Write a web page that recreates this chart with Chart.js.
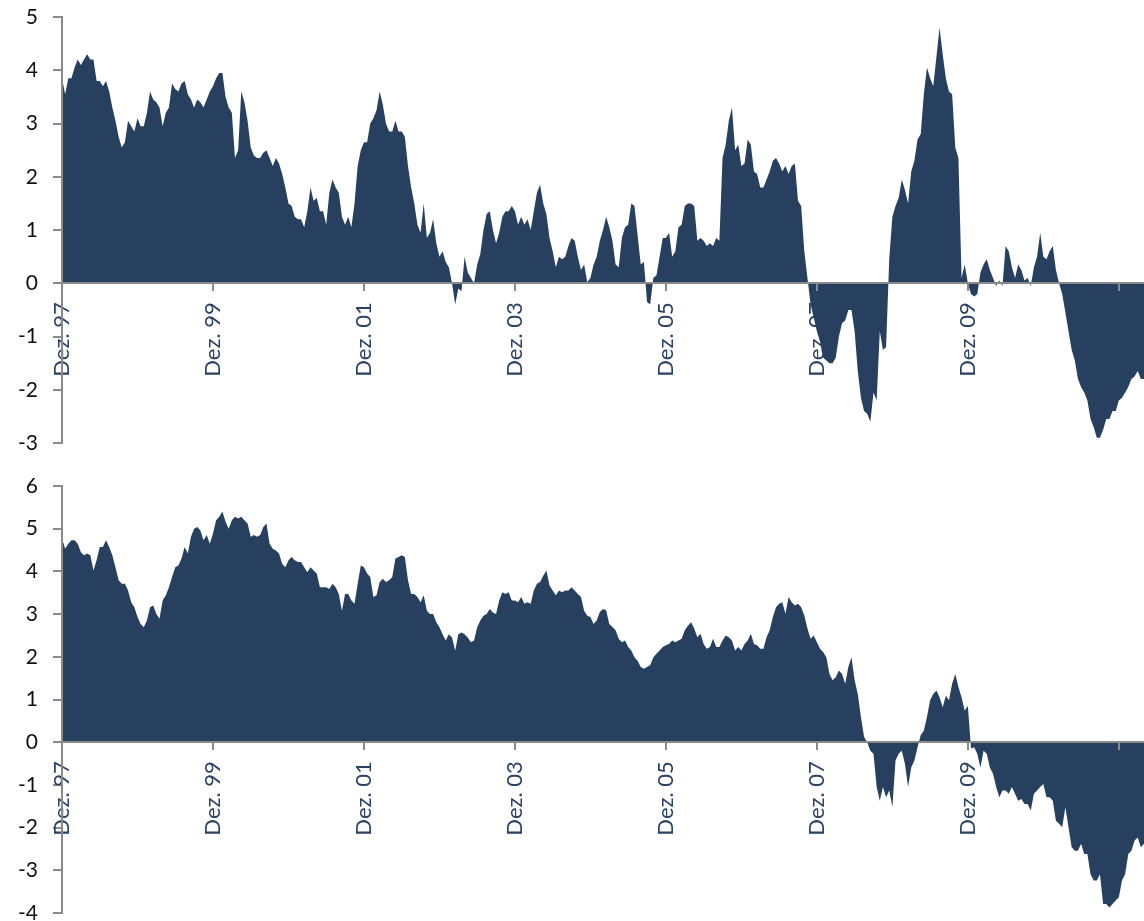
<!DOCTYPE html>
<html>
<head>
<meta charset="utf-8">
<script src="https://cdn.jsdelivr.net/npm/chart.js@4/dist/chart.umd.min.js"></script>
<style>
  html, body { margin: 0; padding: 0; background: #fff; overflow: hidden; }
  #wrap { position: relative; width: 1144px; height: 921px; overflow: hidden; }
  canvas { position: absolute; left: 0; }
  #top { top: 0; }
  #bottom { top: 460px; }
</style>
</head>
<body>
<div id="wrap">
  <canvas id="top" width="1144" height="460"></canvas>
  <canvas id="bottom" width="1144" height="480"></canvas>
</div>
<script>
// half-monthly readings, first value = Dez. 97
const topValues = [
  3.85, 3.55, 3.85, 3.85, 4.05, 4.2, 4.1, 4.2, 4.3, 4.2, 4.2, 3.8,
  3.8, 3.7, 3.8, 3.6, 3.3, 3.05, 2.75, 2.55, 2.65, 3.05, 2.95, 2.85,
  3.1, 2.95, 2.95, 3.2, 3.6, 3.45, 3.4, 3.3, 2.95, 3.2, 3.3, 3.75,
  3.65, 3.6, 3.75, 3.8, 3.55, 3.45, 3.3, 3.45, 3.4, 3.3, 3.45, 3.6,
  3.7, 3.85, 3.95, 3.95, 3.5, 3.3, 3.2, 2.35, 2.5, 3.6, 3.4, 3.05,
  2.55, 2.4, 2.35, 2.35, 2.45, 2.5, 2.35, 2.2, 2.35, 2.25, 2.05, 1.8,
  1.5, 1.45, 1.25, 1.2, 1.2, 1.05, 1.35, 1.8, 1.55, 1.6, 1.35, 1.35,
  1.1, 1.7, 1.95, 1.8, 1.7, 1.25, 1.1, 1.25, 1.05, 1.5, 2.2, 2.5,
  2.65, 2.65, 3.0, 3.1, 3.25, 3.6, 3.35, 3.0, 2.85, 2.85, 3.05, 2.85,
  2.85, 2.75, 2.2, 1.8, 1.5, 1.1, 0.95, 1.5, 0.85, 0.95, 1.2, 0.75,
  0.5, 0.6, 0.4, 0.3, 0.0, -0.4, -0.1, -0.15, 0.5, 0.2, 0.1, 0.0,
  0.35, 0.55, 1.0, 1.3, 1.35, 1.0, 0.75, 0.95, 1.25, 1.35, 1.35, 1.45,
  1.35, 1.1, 1.25, 1.1, 1.2, 1.0, 1.35, 1.7, 1.85, 1.5, 1.3, 0.85,
  0.6, 0.3, 0.5, 0.45, 0.5, 0.7, 0.85, 0.8, 0.5, 0.25, 0.35, 0.02,
  0.1, 0.35, 0.5, 0.8, 1.0, 1.25, 1.05, 0.8, 0.35, 0.3, 0.85, 1.05,
  1.1, 1.5, 1.45, 0.9, 0.35, 0.4, -0.35, -0.4, 0.1, 0.15, 0.5, 0.85,
  0.85, 0.95, 0.5, 0.6, 1.05, 1.1, 1.45, 1.5, 1.5, 1.45, 0.8, 0.85,
  0.8, 0.7, 0.75, 0.7, 0.85, 0.8, 2.35, 2.6, 3.05, 3.3, 2.5, 2.6,
  2.2, 2.25, 2.7, 2.6, 2.1, 2.05, 1.8, 1.8, 1.95, 2.1, 2.3, 2.35,
  2.25, 2.1, 2.2, 2.05, 2.2, 2.25, 1.55, 1.45, 0.6, 0.1, -0.4, -0.65,
  -0.9, -1.1, -1.4, -1.45, -1.5, -1.5, -1.4, -1.0, -0.75, -0.7, -0.5, -0.5,
  -0.9, -1.65, -2.15, -2.4, -2.45, -2.6, -2.05, -2.2, -0.9, -1.25, -1.2, 0.45,
  1.25, 1.45, 1.6, 1.95, 1.75, 1.5, 2.1, 2.3, 2.7, 2.8, 3.55, 4.05,
  3.85, 3.7, 4.25, 4.8, 4.3, 3.85, 3.6, 3.55, 2.55, 2.35, 0.1, 0.35,
  0.0, -0.2, -0.25, -0.2, 0.2, 0.35, 0.45, 0.25, 0.1, -0.05, 0.05, -0.05,
  0.7, 0.6, 0.3, 0.1, 0.35, 0.25, 0.05, 0.1, -0.05, 0.3, 0.5, 0.95,
  0.5, 0.45, 0.6, 0.7, 0.25, 0.0, -0.2, -0.55, -0.9, -1.25, -1.45, -1.8,
  -1.95, -2.05, -2.2, -2.55, -2.7, -2.9, -2.9, -2.75, -2.55, -2.55, -2.4, -2.4,
  -2.2, -2.15, -2.05, -1.95, -1.8, -1.75, -1.65, -1.8, -1.8
];

const bottomValues = [
  4.77, 4.53, 4.65, 4.73, 4.73, 4.65, 4.45, 4.38, 4.42, 4.38, 4.02, 4.26,
  4.57, 4.57, 4.73, 4.57, 4.38, 4.1, 3.79, 3.71, 3.71, 3.55, 3.28, 3.16,
  2.93, 2.77, 2.69, 2.85, 3.16, 3.2, 3.0, 2.89, 3.32, 3.44, 3.63, 3.87,
  4.1, 4.14, 4.3, 4.57, 4.42, 4.81, 5.0, 5.04, 4.96, 4.73, 4.85, 4.65,
  4.89, 5.2, 5.28, 5.4, 5.16, 5.0, 5.2, 5.28, 5.24, 5.28, 5.2, 5.12,
  4.81, 4.85, 4.81, 4.85, 5.04, 5.12, 4.65, 4.53, 4.49, 4.42, 4.18, 4.1,
  4.26, 4.34, 4.26, 4.22, 4.22, 4.1, 3.98, 4.1, 4.02, 3.95, 3.63, 3.63,
  3.63, 3.59, 3.71, 3.63, 3.47, 3.08, 3.47, 3.47, 3.32, 3.24, 3.71, 4.14,
  4.1, 3.95, 3.87, 3.4, 3.44, 3.75, 3.83, 3.75, 3.79, 3.87, 4.3, 4.34,
  4.38, 4.34, 3.79, 3.47, 3.47, 3.4, 3.28, 3.44, 3.08, 3.0, 3.0, 2.81,
  2.69, 2.53, 2.38, 2.53, 2.45, 2.14, 2.53, 2.57, 2.53, 2.45, 2.34, 2.38,
  2.69, 2.85, 2.96, 3.0, 3.12, 3.04, 3.0, 3.32, 3.51, 3.47, 3.51, 3.32,
  3.32, 3.28, 3.4, 3.24, 3.28, 3.24, 3.55, 3.71, 3.75, 3.9, 4.02, 3.67,
  3.55, 3.44, 3.55, 3.51, 3.55, 3.55, 3.63, 3.55, 3.47, 3.4, 3.08, 2.96,
  2.93, 2.77, 2.85, 3.05, 3.12, 3.09, 2.77, 2.7, 2.62, 2.42, 2.34, 2.38,
  2.23, 2.15, 1.99, 1.91, 1.76, 1.72, 1.76, 1.8, 1.99, 2.07, 2.15, 2.23,
  2.27, 2.3, 2.38, 2.34, 2.38, 2.42, 2.62, 2.73, 2.81, 2.66, 2.46, 2.54,
  2.3, 2.19, 2.23, 2.42, 2.23, 2.23, 2.38, 2.5, 2.46, 2.38, 2.15, 2.23,
  2.15, 2.3, 2.38, 2.54, 2.3, 2.27, 2.19, 2.19, 2.46, 2.62, 2.93, 3.16,
  3.24, 3.28, 3.01, 3.4, 3.28, 3.2, 3.24, 3.16, 2.97, 2.66, 2.42, 2.5,
  2.34, 2.19, 2.11, 1.99, 1.6, 1.45, 1.52, 1.68, 1.6, 1.37, 1.76, 1.99,
  1.45, 1.13, 0.59, 0.12, 0.0, -0.2, -0.27, -1.05, -1.37, -1.05, -1.29, -1.13,
  -1.52, -0.43, -0.27, -0.2, -0.51, -1.05, -0.59, -0.43, -0.12, 0.16, 0.27, 0.59,
  0.98, 1.13, 1.21, 1.05, 0.82, 1.09, 0.98, 1.37, 1.6, 1.29, 1.05, 0.74,
  0.85, -0.15, -0.12, -0.27, -0.59, -0.2, -0.27, -0.59, -0.74, -1.05, -1.29, -1.13,
  -1.13, -1.21, -1.05, -1.21, -1.37, -1.33, -1.45, -1.45, -1.6, -1.21, -1.13, -1.05,
  -0.98, -1.29, -1.29, -1.37, -1.84, -1.91, -1.99, -1.52, -1.99, -2.46, -2.54, -2.54,
  -2.38, -2.62, -2.62, -3.09, -3.24, -3.24, -3.09, -3.79, -3.79, -3.87, -3.79, -3.71,
  -3.63, -3.24, -3.09, -2.62, -2.54, -2.3, -2.23, -2.46, -2.38
];

const tickLabels = ['Dez. 97', 'Dez. 99', 'Dez. 01', 'Dez. 03', 'Dez. 05', 'Dez. 07', 'Dez. 09', 'Dez. 11'];
// x position of each reading, in months after Dez. 97
const months = topValues.map((_, i) => i / 2);

const fillColor = '#27405f';
const axisColor = '#8a8a8a';

function makeChart(id, values, yMin, yMax, padTop, padBottom) {
  new Chart(document.getElementById(id), {
    type: 'line',
    data: {
      labels: months,
      datasets: [{
        data: values,
        fill: 'origin',
        backgroundColor: fillColor,
        borderWidth: 0,
        pointRadius: 0,
        tension: 0
      }]
    },
    options: {
      responsive: false,
      animation: false,
      layout: { padding: { top: padTop, bottom: padBottom, left: 0, right: 0 } },
      plugins: { legend: { display: false }, tooltip: { enabled: false } },
      scales: {
        x: {
          type: 'linear',
          position: { y: 0 },
          min: 0,
          max: 172,
          afterFit: (s) => { s.paddingLeft = 0; s.paddingRight = 0; },
          grid: { drawOnChartArea: false, tickLength: 7, color: axisColor, lineWidth: 2, z: 1 },
          border: { color: axisColor, width: 2, z: 1 },
          ticks: {
            stepSize: 24,
            includeBounds: false,
            autoSkip: false,
            maxRotation: 90,
            minRotation: 90,
            padding: 12,
            color: '#2a4264',
            font: { family: 'Lato', size: 22 },
            callback: (v) => tickLabels[v / 24]
          }
        },
        y: {
          min: yMin,
          max: yMax,
          afterFit: (s) => { s.width = 62; s.paddingTop = 0; s.paddingBottom = 0; },
          grid: { drawOnChartArea: false, tickLength: 9, color: axisColor, lineWidth: 2 },
          border: { color: axisColor, width: 2, z: 1 },
          ticks: {
            stepSize: 1,
            padding: 15,
            color: '#111',
            font: { family: 'Lato', size: 21 }
          }
        }
      }
    }
  });
}

makeChart('top', topValues, -3, 5, 17, 17);
makeChart('bottom', bottomValues, -4, 6, 26, 27);
</script>
</body>
</html>
